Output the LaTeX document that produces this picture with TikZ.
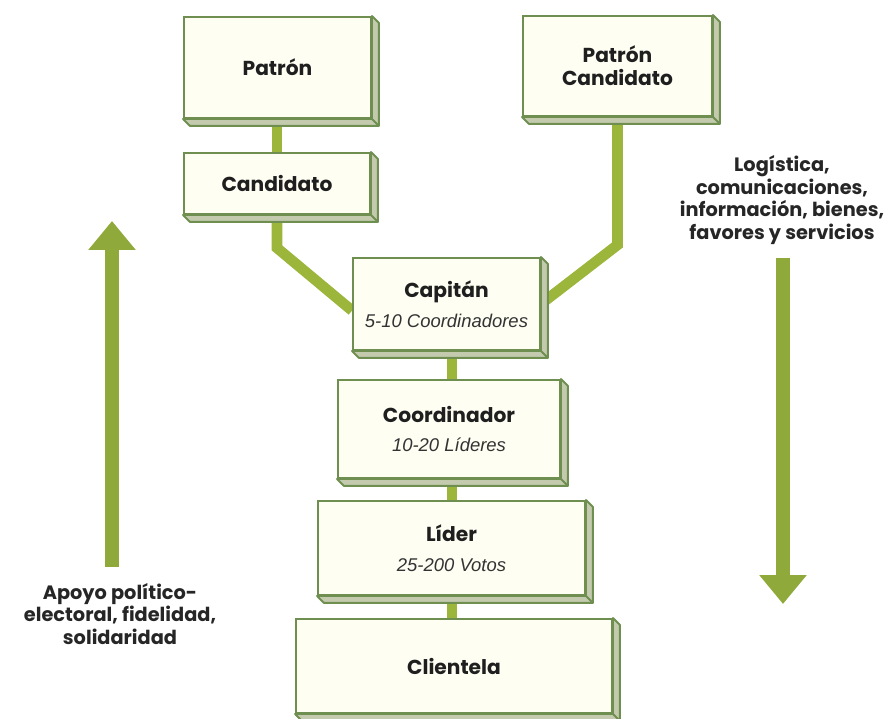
\documentclass[tikz,border=0pt]{standalone}
\usepackage{fontspec}
\setmainfont{Poppins}
\newfontfamily\subfont{Liberation Sans}
\usetikzlibrary{arrows.meta,backgrounds}

\definecolor{boxfill}{HTML}{FEFEF3}
\definecolor{boxline}{HTML}{6E8F50}
\definecolor{bevelfill}{HTML}{C4CAAE}
\definecolor{linkgreen}{HTML}{9CB63C}
\definecolor{arrowgreen}{HTML}{8FAA3B}
\newcommand{\countline}[1]{{\subfont\fontsize{10.5}{12}\selectfont\mdseries\itshape\color{black!80}#1}}

\begin{document}
\begin{tikzpicture}[x=0.02cm, y=-0.02cm,
	level/.style={draw=boxline, fill=boxfill, line width=1.1pt, align=center,
		font=\fontsize{11.5}{13}\selectfont\bfseries, text=black!88, inner sep=0pt},
	bevel/.style={draw=boxline, fill=bevelfill, line width=1.1pt, line join=round},
	link/.style={linkgreen, line width=6pt},
	bigarrow/.style={arrowgreen, line width=8pt, -{Triangle[width=26pt,length=16.5pt]}},
	side/.style={align=center, font=\fontsize{11}{13}\selectfont\bfseries, text=black!85}]
	\useasboundingbox (0,0) rectangle (890,719);

	% boxes
	\node[level, minimum width=3.74cm, minimum height=2.02cm] (patron) at (277.5,67.5) {Patrón};
	\node[level, minimum width=3.72cm, minimum height=1.22cm] (candidato) at (277,183.5) {Candidato};
	\node[level, minimum width=3.78cm, minimum height=2.00cm] (patroncand) at (617.5,66) {Patrón\\Candidato};
	\node[level, minimum width=3.74cm, minimum height=1.84cm] (capitan) at (446.5,304)
		{Capitán\\[4pt]\countline{5-10 Coordinadores}};
	\node[level, minimum width=4.44cm, minimum height=1.96cm] (coordinador) at (449,429)
		{Coordinador\\[4pt]\countline{10-20 Líderes}};
	\node[level, minimum width=5.34cm, minimum height=1.88cm] (lider) at (451.5,548)
		{Líder\\[4pt]\countline{25-200 Votos}};
	\node[level, minimum width=6.32cm, minimum height=1.88cm] (clientela) at (454,666) {Clientela};

	% 3d edges
	\foreach \n in {patron,candidato,patroncand,capitan,coordinador,lider,clientela}
	{
		\draw[bevel] (\n.north east) -- ++(7,7) -- ([shift={(7,7)}]\n.south east)
			-- ([shift={(7,7)}]\n.south west) -- (\n.south west) -- (\n.south east) -- cycle;
		\draw[bevel] (\n.south east) -- ++(7,7);
	}

	% connectors
	\coordinate (spine) at (452,0);
	\begin{pgfonlayer}{background}
		\draw[link] (patron.south -| candidato.north) -- (candidato.north);
		\draw[link] (candidato.south) -- ++(0,33) -- (capitan.184);
		\draw[link] (patroncand.south) -- ++(0,128) -- (capitan.east);
		\draw[link] (capitan.south -| spine) -- (coordinador.north -| spine);
		\draw[link] (coordinador.south -| spine) -- (lider.north -| spine);
		\draw[link] (lider.south -| spine) -- (clientela.north -| spine);
	\end{pgfonlayer}

	% side arrows
	\coordinate (uptail) at (112,567);
	\coordinate (uptip) at (112,221);
	\coordinate (downtail) at (783,258);
	\coordinate (downtip) at (783,604);
	\draw[bigarrow] (uptail) -- (uptip);
	\draw[bigarrow] (downtail) -- (downtip);

	% side texts
	\node[side] (apoyo) at (120,614) {Apoyo político-\\electoral, fidelidad,\\solidaridad};
	\node[side] (logistica) at (782,200) {Logística,\\comunicaciones,\\información, bienes,\\favores y servicios};
\end{tikzpicture}
\end{document}
